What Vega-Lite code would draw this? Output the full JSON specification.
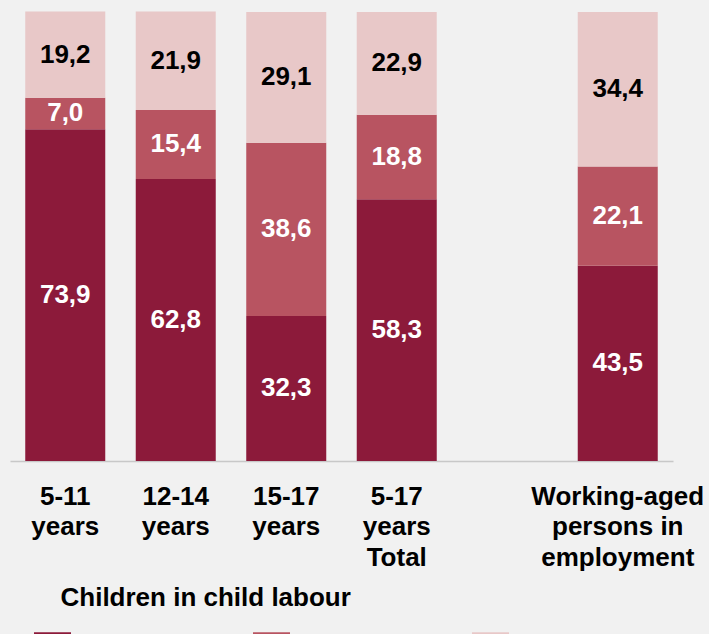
{
  "$schema": "https://vega.github.io/schema/vega-lite/v6.json",
  "autosize": "none",
  "width": 663,
  "height": 449,
  "padding": {"left": 10, "top": 12, "right": 36, "bottom": 173},
  "background": "#f1f1f1",
  "config": {
    "view": {"stroke": null},
    "font": "Liberation Sans",
    "text": {"font": "Liberation Sans"}
  },
  "data": {
    "values": [
      {"category": "5-11 years", "status": "Contributing family workers", "k": 1, "value": 73.9},
      {"category": "5-11 years", "status": "Own-account workers", "k": 2, "value": 7.0},
      {"category": "5-11 years", "status": "Employees", "k": 3, "value": 19.2},
      {"category": "12-14 years", "status": "Contributing family workers", "k": 1, "value": 62.8},
      {"category": "12-14 years", "status": "Own-account workers", "k": 2, "value": 15.4},
      {"category": "12-14 years", "status": "Employees", "k": 3, "value": 21.9},
      {"category": "15-17 years", "status": "Contributing family workers", "k": 1, "value": 32.3},
      {"category": "15-17 years", "status": "Own-account workers", "k": 2, "value": 38.6},
      {"category": "15-17 years", "status": "Employees", "k": 3, "value": 29.1},
      {"category": "5-17 years Total", "status": "Contributing family workers", "k": 1, "value": 58.3},
      {"category": "5-17 years Total", "status": "Own-account workers", "k": 2, "value": 18.8},
      {"category": "5-17 years Total", "status": "Employees", "k": 3, "value": 22.9},
      {"category": "Working-aged persons in employment", "status": "Contributing family workers", "k": 1, "value": 43.5},
      {"category": "Working-aged persons in employment", "status": "Own-account workers", "k": 2, "value": 22.1},
      {"category": "Working-aged persons in employment", "status": "Employees", "k": 3, "value": 34.4}
    ]
  },
  "transform": [
    {"stack": "value", "groupby": ["category"], "sort": [{"field": "k", "order": "ascending"}], "as": ["y0", "y1"]},
    {"calculate": "(datum.y0 + datum.y1) / 2", "as": "mid"},
    {"calculate": "replace(format(datum.value, '.1f'), '.', ',')", "as": "label"}
  ],
  "encoding": {
    "x": {
      "field": "category",
      "type": "nominal",
      "scale": {
        "domain": ["5-11 years", "12-14 years", "15-17 years", "5-17 years Total", " ", "Working-aged persons in employment"],
        "paddingInner": 0.276,
        "paddingOuter": 0.138
      },
      "axis": {
        "labelAngle": 0,
        "labelExpr": "datum.value == 'Working-aged persons in employment' ? ['Working-aged', 'persons in', 'employment'] : split(datum.value, ' ')",
        "labelFont": "Liberation Sans",
        "labelFontSize": 26,
        "labelFontWeight": "bold",
        "labelColor": "#000000",
        "labelBaseline": "top",
        "labelPadding": 22,
        "labelLineHeight": 30.5,
        "labelLimit": 300,
        "ticks": false,
        "domainColor": "#c8c8c8",
        "domainWidth": 1.5,
        "title": "Children in child labour",
        "titleFont": "Liberation Sans",
        "titleFontSize": 26,
        "titleFontWeight": "bold",
        "titleColor": "#000000",
        "titleAlign": "left",
        "titleAnchor": "start",
        "titleBaseline": "alphabetic",
        "titleX": 50,
        "titleY": 144
      }
    }
  },
  "layer": [
    {
      "mark": {"type": "bar"},
      "encoding": {
        "y": {"field": "y0", "type": "quantitative", "scale": {"domain": [0, 100], "nice": false, "zero": true}, "axis": null},
        "y2": {"field": "y1"},
        "color": {
          "field": "status",
          "type": "nominal",
          "scale": {
            "domain": ["Contributing family workers", "Own-account workers", "Employees"],
            "range": ["#8c1a3a", "#b85461", "#e8c8c8"]
          },
          "legend": {
            "orient": "none",
            "legendX": 24,
            "legendY": 620,
            "direction": "horizontal",
            "columns": 3,
            "gridAlign": "all",
            "title": null,
            "symbolType": "square",
            "symbolSize": 1369,
            "symbolStrokeWidth": 0,
            "symbolOpacity": 1,
            "labelFont": "Liberation Sans",
            "labelFontSize": 20,
            "labelBaseline": "top",
            "labelLimit": 160,
            "labelOffset": 8,
            "columnPadding": 16,
            "padding": 0
          }
        }
      }
    },
    {
      "mark": {"type": "text", "fontSize": 26, "fontWeight": "bold", "baseline": "middle", "align": "center"},
      "encoding": {
        "y": {"field": "mid", "type": "quantitative"},
        "text": {"field": "label"},
        "color": {"condition": {"test": "datum.k == 3", "value": "#000000"}, "value": "#ffffff"}
      }
    }
  ]
}
